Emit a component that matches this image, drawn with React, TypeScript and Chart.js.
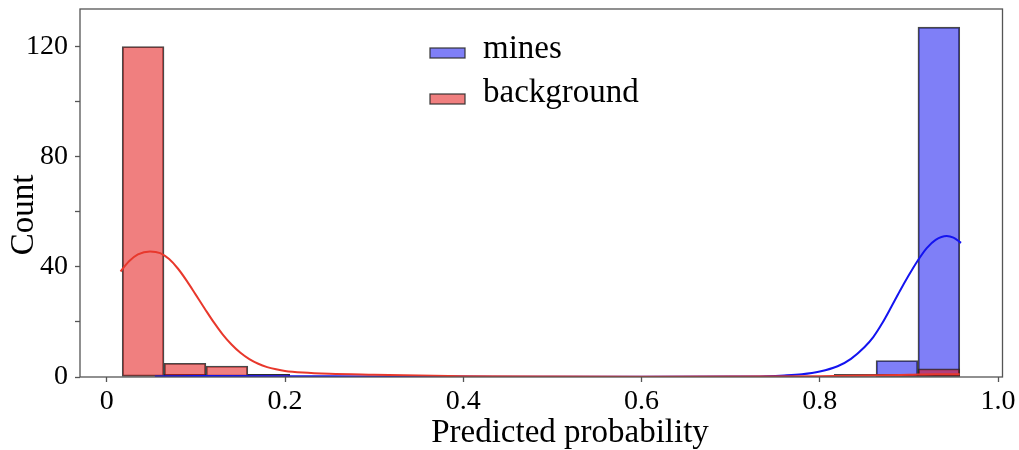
import React, { useEffect, useRef } from 'react';
import { Chart, registerables } from 'chart.js';

Chart.register(...registerables);

// ---- data ----
const seriesLabels = ['mines', 'background'];
const xAxisTitle = 'Predicted probability';
const yAxisTitle = 'Count';

// histogram bin centres (20 shared bins)
const binCenters = [
  0.0408, 0.0878, 0.1348, 0.1818, 0.2288, 0.2758, 0.3227, 0.3697, 0.4167, 0.4637,
  0.5107, 0.5577, 0.6047, 0.6517, 0.6987, 0.7457, 0.7926, 0.8396, 0.8866, 0.9336,
];
const minesCounts = [0, 1, 0, 1, 0, 0, 0, 0, 0, 0, 0, 0, 0, 0, 0, 0, 0, 0, 6, 127];
const backgroundCounts = [120, 5, 4, 1, 0, 0, 0, 0, 0, 0, 0, 0, 0, 0, 0, 0, 0, 1, 1, 3];

// KDE curves (in count units)
const backgroundKdeX = [
  0.0155, 0.025, 0.035, 0.0486, 0.06, 0.07, 0.08, 0.09, 0.1, 0.11, 0.12, 0.13, 0.14,
  0.15, 0.16, 0.17, 0.18, 0.19, 0.2, 0.22, 0.25, 0.3, 0.35, 0.4, 0.5, 0.6, 0.7, 0.8,
  0.85, 0.9, 0.93, 0.957,
];
const backgroundKdeY = [
  38.3, 42.0, 44.5, 45.6, 45.0, 42.8, 39.3, 34.8, 29.8, 24.8, 19.9, 15.5, 11.8,
  8.8, 6.5, 4.8, 3.6, 2.8, 2.2, 1.6, 1.15, 0.8, 0.5, 0.3, 0.15, 0.1, 0.15, 0.3,
  0.5, 0.8, 1.0, 1.0,
];
const minesKdeX = [
  0.054, 0.1, 0.2, 0.3, 0.4, 0.5, 0.6, 0.7, 0.74, 0.76, 0.78, 0.8, 0.82, 0.835,
  0.85, 0.86, 0.87, 0.88, 0.89, 0.9, 0.91, 0.92, 0.93, 0.9424, 0.95, 0.9585,
];
const minesKdeY = [
  0.2, 0.35, 0.3, 0.2, 0.15, 0.1, 0.1, 0.15, 0.3, 0.55, 1.0, 2.0, 3.9, 6.6,
  10.8, 14.5, 19.5, 25.3, 31.3, 37.0, 42.3, 46.8, 49.8, 51.2, 50.6, 48.7,
];

const xTickValues = [0, 0.2, 0.4, 0.6, 0.8, 1.0];
const xTickLabels = ['0', '0.2', '0.4', '0.6', '0.8', '1.0'];
const yTickValues = [0, 20, 40, 60, 80, 100, 120];
const yTickLabels = ['0', '', '40', '', '80', '', '120'];

// ---- styles ----
const SERIF = '"Liberation Serif", "Times New Roman", Times, serif';
const minesFill = 'rgba(0, 0, 240, 0.5)';
const backgroundFill = 'rgba(225, 0, 0, 0.5)';
const minesLine = 'rgb(20, 20, 240)';
const backgroundLine = 'rgb(232, 56, 44)';
const barEdge = 'rgba(40, 40, 40, 0.85)';
const frameColor = '#555555';

const framePlugin = {
  id: 'frame',
  afterDatasetsDraw(chart: any) {
    const { ctx, chartArea } = chart;
    ctx.save();
    ctx.strokeStyle = frameColor;
    ctx.lineWidth = 1.3;
    ctx.strokeRect(chartArea.left, chartArea.top, chartArea.right - chartArea.left, chartArea.bottom - chartArea.top);
    ctx.restore();
  },
};

const textPlugin = {
  id: 'texts',
  afterDraw(chart: any) {
    const { ctx, chartArea } = chart;
    ctx.save();
    // legend
    const items = [
      { label: seriesLabels[0], fill: minesFill },
      { label: seriesLabels[1], fill: backgroundFill },
    ];
    ctx.font = `33px ${SERIF}`;
    items.forEach((it, i) => {
      const top = chartArea.top + 39 + i * 46;
      const left = chartArea.left + 350;
      ctx.fillStyle = '#ffffff';
      ctx.fillRect(left, top, 35, 10);
      ctx.fillStyle = it.fill;
      ctx.fillRect(left, top, 35, 10);
      ctx.strokeStyle = barEdge;
      ctx.lineWidth = 1.3;
      ctx.strokeRect(left, top, 35, 10);
      ctx.fillStyle = '#000';
      ctx.textAlign = 'left';
      ctx.textBaseline = 'alphabetic';
      ctx.fillText(it.label, left + 53, top + 10 - i * 2);
    });
    // axis titles
    ctx.font = `33px ${SERIF}`;
    ctx.fillStyle = '#000';
    ctx.textAlign = 'center';
    ctx.textBaseline = 'alphabetic';
    ctx.fillText(xAxisTitle, chartArea.left + 490, chartArea.bottom + 65);
    ctx.translate(chartArea.left - 47, chartArea.top + 206);
    ctx.rotate(-Math.PI / 2);
    ctx.fillText(yAxisTitle, 0, 0);
    ctx.restore();
  },
};

export default function App() {
  const canvasRef = useRef<HTMLCanvasElement | null>(null);

  useEffect(() => {
    if (!canvasRef.current) return;
    const chart = new Chart(canvasRef.current, {
      type: 'bar',
      data: {
        datasets: [
          {
            type: 'line',
            label: seriesLabels[1] + ' kde',
            data: backgroundKdeX.map((x, i) => ({ x, y: backgroundKdeY[i] })),
            borderColor: backgroundLine,
            borderWidth: 2,
            pointRadius: 0,
            fill: false,
            cubicInterpolationMode: 'monotone',
          },
          {
            type: 'line',
            label: seriesLabels[0] + ' kde',
            data: minesKdeX.map((x, i) => ({ x, y: minesKdeY[i] })),
            borderColor: minesLine,
            borderWidth: 2,
            pointRadius: 0,
            fill: false,
            cubicInterpolationMode: 'monotone',
          },
          {
            type: 'bar',
            label: seriesLabels[1],
            data: binCenters.map((x, i) => ({ x, y: backgroundCounts[i] })),
            backgroundColor: backgroundFill,
            borderColor: barEdge,
            borderWidth: 1.3,
            borderSkipped: false,
            grouped: false,
            barPercentage: 1,
            categoryPercentage: 1,
          },
          {
            type: 'bar',
            label: seriesLabels[0],
            data: binCenters.map((x, i) => ({ x, y: minesCounts[i] })),
            backgroundColor: minesFill,
            borderColor: barEdge,
            borderWidth: 1.3,
            borderSkipped: false,
            grouped: false,
            barPercentage: 1,
            categoryPercentage: 1,
          },
        ] as any,
      },
      options: {
        animation: false,
        responsive: false,
        devicePixelRatio: 1,
        layout: { padding: { top: 9, right: 16.5, left: 0, bottom: 0 } },
        plugins: {
          legend: { display: false },
          tooltip: { enabled: false },
          title: { display: false },
        },
        scales: {
          x: {
            type: 'linear',
            min: -0.03,
            max: 1.005,
            offset: false,
            grid: {
              offset: false,
              drawOnChartArea: false,
              drawTicks: true,
              tickLength: 5,
              color: frameColor,
              tickWidth: 1.3,
            },
            border: { display: false },
            ticks: {
              autoSkip: false,
              maxRotation: 0,
              padding: 3,
              color: '#000',
              font: { family: SERIF, size: 28 },
              callback: (_v: any, i: number) => xTickLabels[i],
            },
            afterBuildTicks: (s: any) => {
              s.ticks = xTickValues.map((v) => ({ value: v }));
            },
            afterFit: (s: any) => {
              s.height = 73;
              s.paddingLeft = 0;
              s.paddingRight = 0;
            },
          },
          y: {
            type: 'linear',
            min: 0,
            max: 133.6,
            grid: {
              drawOnChartArea: false,
              drawTicks: true,
              tickLength: 5,
              color: frameColor,
              tickWidth: 1.3,
            },
            border: { display: false },
            ticks: {
              autoSkip: false,
              padding: 7,
              color: '#000',
              font: { family: SERIF, size: 28 },
              callback: (_v: any, i: number) => yTickLabels[i],
            },
            afterBuildTicks: (s: any) => {
              s.ticks = yTickValues.map((v) => ({ value: v }));
            },
            afterFit: (s: any) => {
              s.width = 80;
              s.paddingTop = 0;
              s.paddingBottom = 0;
            },
          },
        },
      } as any,
      plugins: [framePlugin, textPlugin],
    });
    return () => chart.destroy();
  }, []);

  return (
    <div style={{ position: 'absolute', left: 0, top: 0, width: 1019, height: 450, background: '#fff' }}>
      <canvas ref={canvasRef} width={1019} height={450} />
    </div>
  );
}
